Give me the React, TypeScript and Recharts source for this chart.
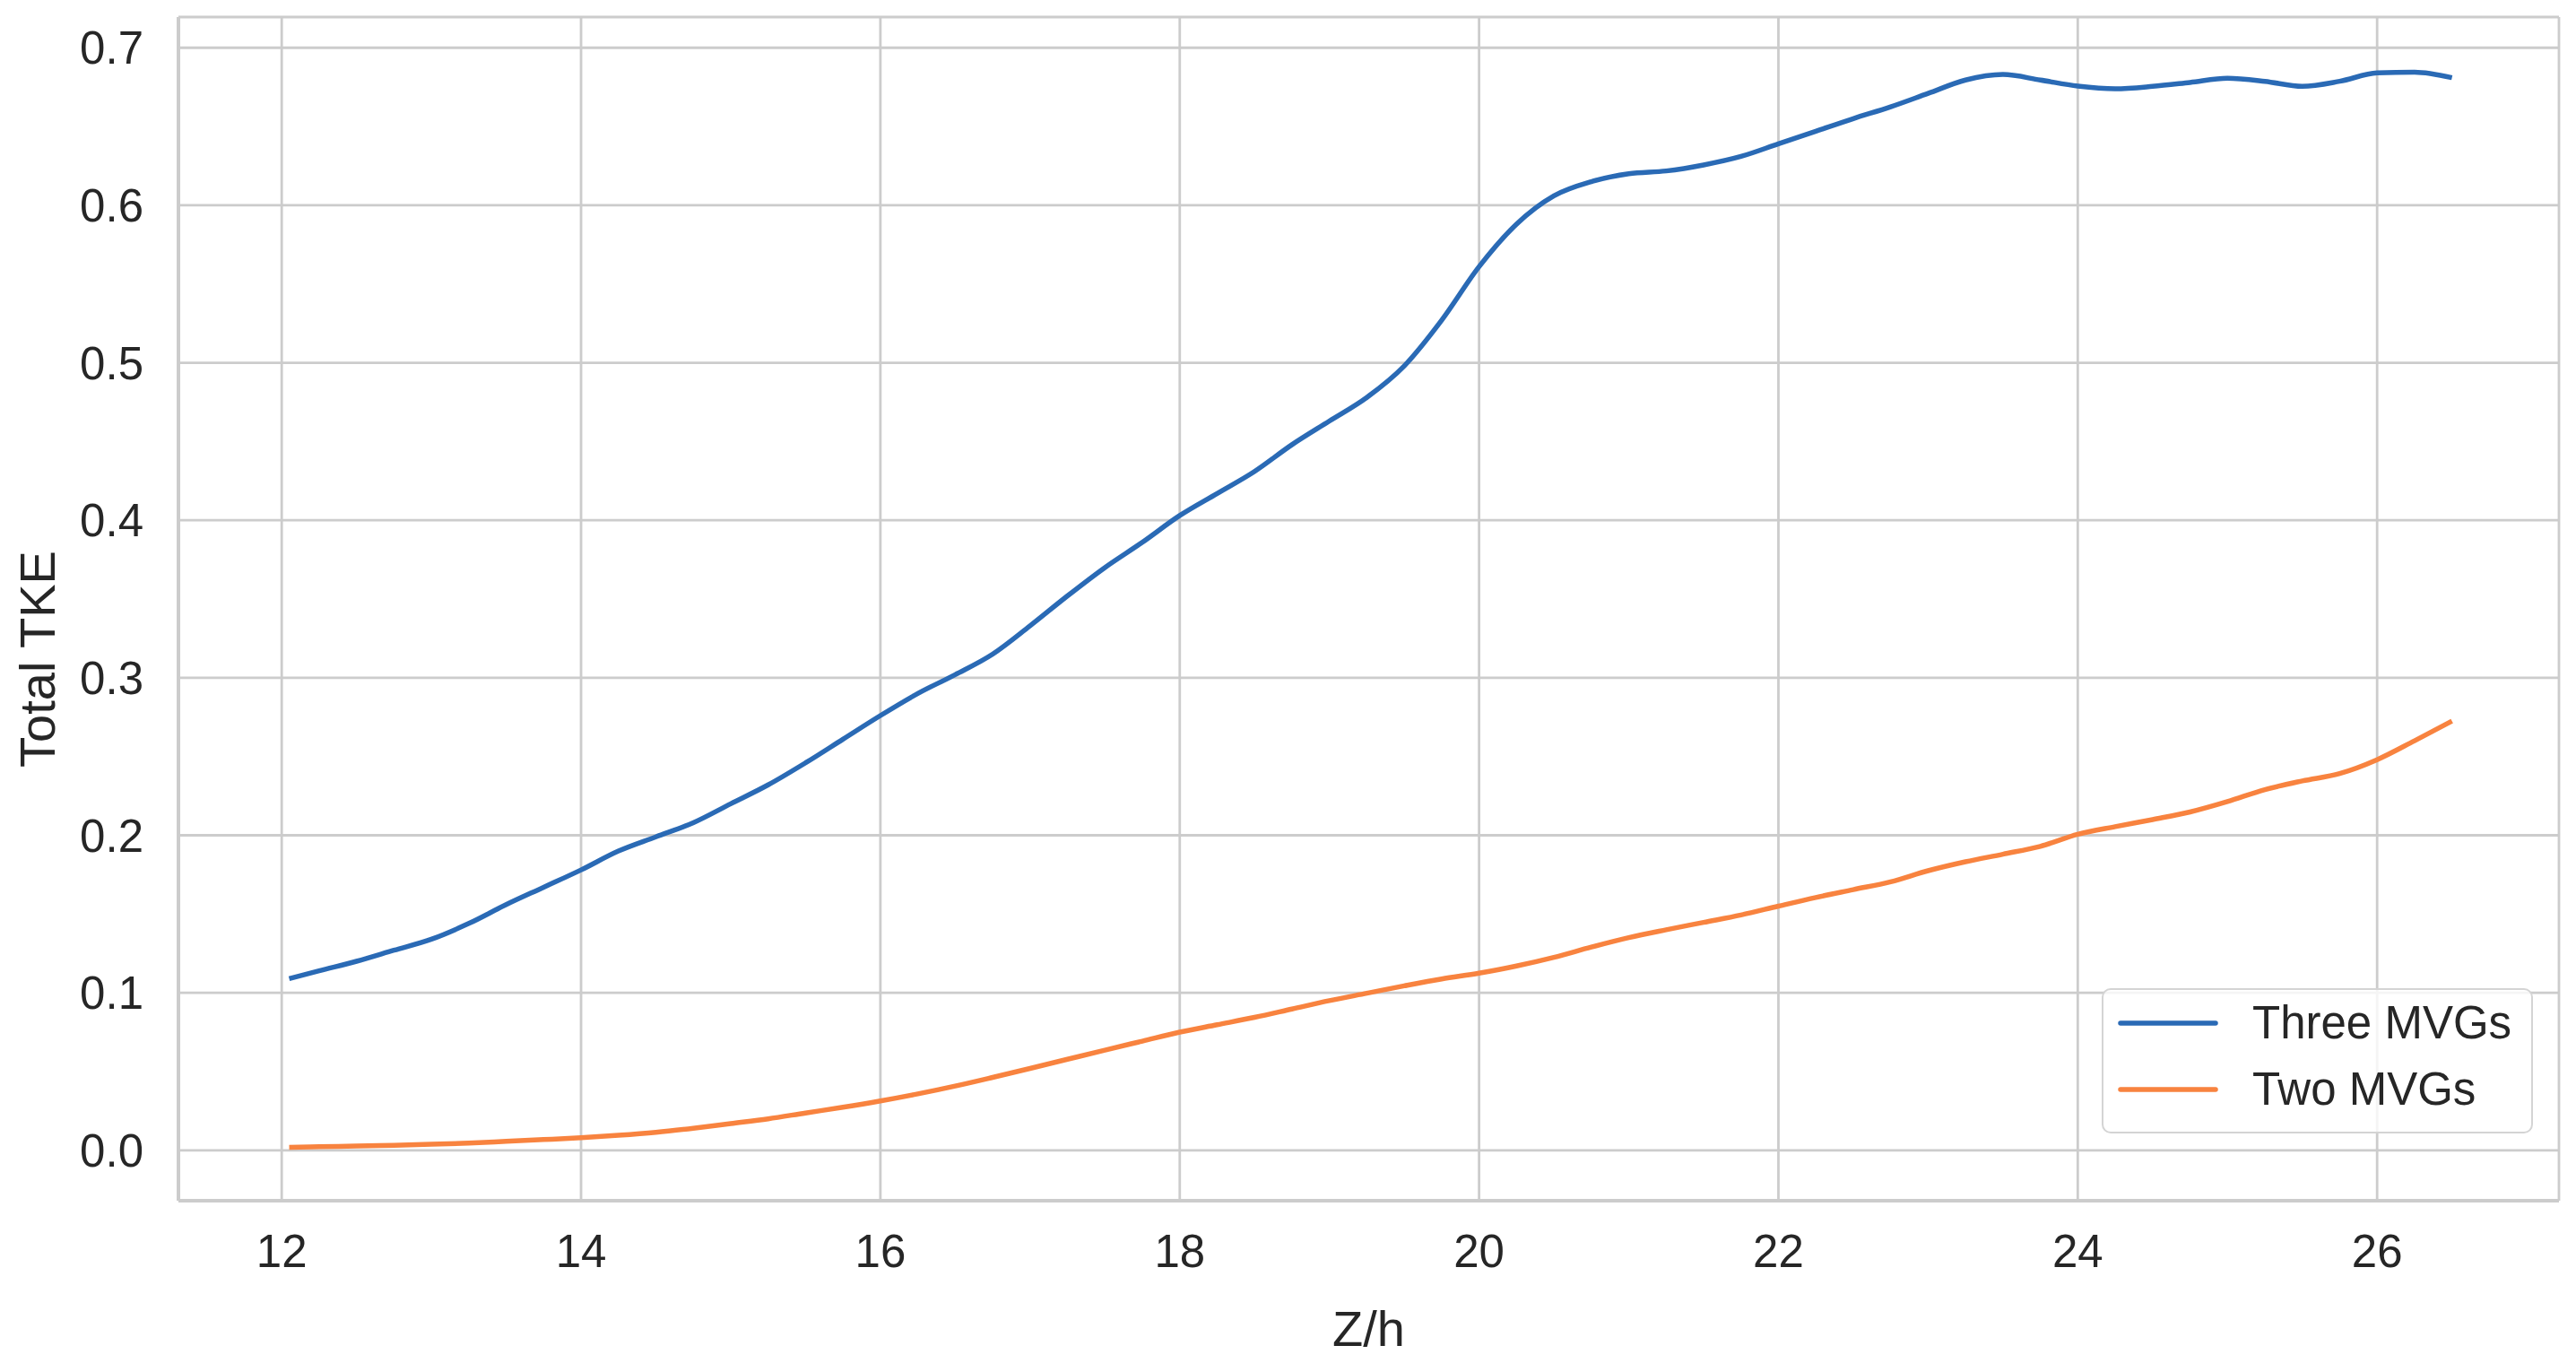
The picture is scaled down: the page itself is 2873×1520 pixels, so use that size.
import React from 'react';
import { LineChart, Line, XAxis, YAxis, CartesianGrid, Legend } from 'recharts';

const zValues = [
  12.05, 12.25, 12.5, 12.75, 13.0, 13.25, 13.5, 13.75, 14.0, 14.25, 14.5, 14.75,
  15.0, 15.25, 15.5, 15.75, 16.0, 16.25, 16.5, 16.75, 17.0, 17.25, 17.5, 17.75,
  18.0, 18.25, 18.5, 18.75, 19.0, 19.25, 19.5, 19.75, 20.0, 20.25, 20.5, 20.75,
  21.0, 21.25, 21.5, 21.75, 22.0, 22.25, 22.5, 22.75, 23.0, 23.25, 23.5, 23.75,
  24.0, 24.25, 24.5, 24.75, 25.0, 25.25, 25.5, 25.75, 26.0, 26.25, 26.5,
];

const threeMVGs = [
  0.109, 0.114, 0.120, 0.127, 0.134, 0.144, 0.156, 0.167, 0.178, 0.190, 0.199, 0.208,
  0.220, 0.232, 0.246, 0.261, 0.276, 0.290, 0.302, 0.315, 0.333, 0.352, 0.370, 0.386,
  0.403, 0.417, 0.431, 0.448, 0.463, 0.478, 0.498, 0.527, 0.561, 0.588, 0.606, 0.615,
  0.620, 0.6218, 0.6256, 0.631, 0.639, 0.647, 0.655, 0.6625, 0.671, 0.6795, 0.683, 0.6795,
  0.6757, 0.674, 0.6755, 0.678, 0.6806, 0.6787, 0.6755, 0.6787, 0.684, 0.6845, 0.681,
];

const twoMVGs = [
  0.0019, 0.0023, 0.0027, 0.0032, 0.0038, 0.0046, 0.0057, 0.0068, 0.0080, 0.0095, 0.0114, 0.014,
  0.017, 0.020, 0.0237, 0.0273, 0.0313, 0.0358, 0.0408, 0.0463, 0.052, 0.0578, 0.0636, 0.0693,
  0.075, 0.0797, 0.0844, 0.0897, 0.095, 0.0997, 0.1044, 0.1088, 0.1125, 0.117, 0.1225, 0.129,
  0.135, 0.140, 0.1447, 0.1494, 0.155, 0.1605, 0.1655, 0.1705, 0.1775, 0.1832, 0.188, 0.193,
  0.2006, 0.2055, 0.210, 0.2148, 0.2214, 0.229, 0.2345, 0.2392, 0.248, 0.260, 0.2725,
];

const xTicks = [12, 14, 16, 18, 20, 22, 24, 26];
const yTicks = [0, 0.1, 0.2, 0.3, 0.4, 0.5, 0.6, 0.7];

const seriesNames = ['Three MVGs', 'Two MVGs'];
const seriesColors = ['#2a6ab5', '#f8833f'];

const data = zValues.map((z, i) => ({ z, three: threeMVGs[i], two: twoMVGs[i] }));

const FONT = '"Liberation Sans", Arial, Helvetica, sans-serif';
const TEXT = '#262626';
const GRID = '#cccccc';

const LegendBox = () => (
  <div
    style={{
      position: 'relative',
      width: 481,
      height: 162,
      boxSizing: 'border-box',
      border: '2.5px solid #d4d4d4',
      borderRadius: 10,
      background: 'rgba(255,255,255,0.8)',
      fontFamily: FONT,
    }}
  >
    {seriesNames.map((name, i) => (
      <div key={name}>
        <svg
          width={112}
          height={10}
          style={{ position: 'absolute', left: 16, top: 37 + i * 74 - 5 }}
        >
          <line x1={3} y1={5} x2={109} y2={5} stroke={seriesColors[i]} strokeWidth={5.5} strokeLinecap="round" />
        </svg>
        <div
          style={{
            position: 'absolute',
            left: 166,
            top: 37 + i * 74 - 30,
            height: 60,
            lineHeight: '60px',
            fontSize: 51,
            color: TEXT,
            whiteSpace: 'nowrap',
          }}
        >
          {name}
        </div>
      </div>
    ))}
  </div>
);

export default function App() {
  return (
    <LineChart
      width={2865}
      height={1512}
      data={data}
      margin={{ top: 11, right: 19, left: 0, bottom: 0 }}
      style={{ fontFamily: FONT, background: '#ffffff' }}
    >
      <CartesianGrid stroke={GRID} strokeWidth={2.8} ticks={xTicks} />
      <XAxis
        type="number"
        dataKey="z"
        domain={[11.31, 27.215]}
        ticks={xTicks}
        allowDataOverflow
        height={181}
        tickLine={false}
        tickSize={0}
        tickMargin={38}
        axisLine={{ stroke: GRID, strokeWidth: 4 }}
        tick={{ fontSize: 51, fill: TEXT, fontFamily: FONT }}
        label={{
          content: () => (
            <text
              x={191 + (2846 - 191) / 2}
              y={1473}
              textAnchor="middle"
              dominantBaseline="central"
              fontSize={56}
              fill={TEXT}
              fontFamily={FONT}
            >
              Z/h
            </text>
          ),
        }}
      />
      <XAxis
        xAxisId="top"
        orientation="top"
        type="number"
        dataKey="z"
        domain={[11.31, 27.215]}
        allowDataOverflow
        height={0}
        tick={false}
        tickLine={false}
        axisLine={{ stroke: GRID, strokeWidth: 4 }}
      />
      <YAxis
        type="number"
        domain={[-0.032, 0.7195]}
        ticks={yTicks}
        allowDataOverflow
        width={191}
        tickLine={false}
        tickSize={0}
        tickMargin={39}
        axisLine={{ stroke: GRID, strokeWidth: 4 }}
        tickFormatter={(v: number) => v.toFixed(1)}
        tick={{ fontSize: 51, fill: TEXT, fontFamily: FONT }}
        label={{
          content: () => (
            <text
              x={33}
              y={727}
              transform="rotate(-90 33 727)"
              textAnchor="middle"
              dominantBaseline="central"
              fontSize={56}
              fill={TEXT}
              fontFamily={FONT}
            >
              Total TKE
            </text>
          ),
        }}
      />
      <YAxis
        yAxisId="right"
        orientation="right"
        type="number"
        domain={[-0.032, 0.7195]}
        allowDataOverflow
        width={0}
        tick={false}
        tickLine={false}
        axisLine={{ stroke: GRID, strokeWidth: 4 }}
      />
      <Line
        type="monotone"
        dataKey="three"
        name={seriesNames[0]}
        stroke={seriesColors[0]}
        strokeWidth={5.5}
        dot={false}
        activeDot={false}
        isAnimationActive={false}
      />
      <Line
        type="monotone"
        dataKey="two"
        name={seriesNames[1]}
        stroke={seriesColors[1]}
        strokeWidth={5.5}
        dot={false}
        activeDot={false}
        isAnimationActive={false}
      />
      <Legend
        layout="vertical"
        align="center"
        verticalAlign="middle"
        content={() => <LegendBox />}
        wrapperStyle={{ position: 'absolute', left: 2336, top: 1094, width: 481, height: 162 }}
      />
    </LineChart>
  );
}
